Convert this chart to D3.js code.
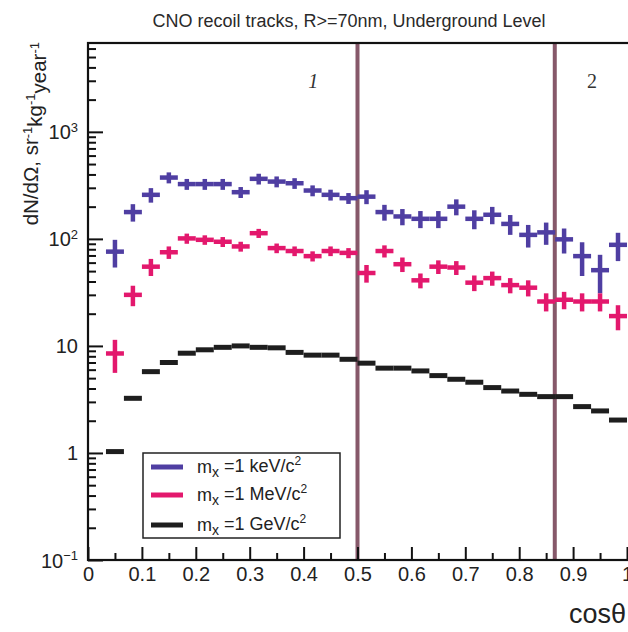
<!DOCTYPE html>
<html>
<head>
<meta charset="utf-8">
<script src="https://cdn.jsdelivr.net/npm/d3@7"></script>
<style>
  html, body { margin: 0; padding: 0; background: #fff; }
  svg { display: block; }
  text { font-family: "Liberation Sans", Arial, Helvetica, sans-serif; fill: #1a1a1a; }
</style>
</head>
<body>
<svg id="chart" width="628" height="632"></svg>
<script>
// ---------------- data ----------------
const titleText = "CNO recoil tracks, R>=70nm, Underground Level";
const binCenters = [0.0500, 0.0833, 0.1167, 0.1500, 0.1833, 0.2167, 0.2500, 0.2833, 0.3167, 0.3500,
                    0.3833, 0.4167, 0.4500, 0.4833, 0.5167, 0.5500, 0.5833, 0.6167, 0.6500, 0.6833,
                    0.7167, 0.7500, 0.7833, 0.8167, 0.8500, 0.8833, 0.9167, 0.9500, 0.9833];
const binWidth = 1 / 30;

const keVValues = [76, 178, 258, 374, 325, 325, 325, 273, 364, 343,
                   331, 283, 258, 240, 248, 178, 162, 154, 154, 200,
                   154, 168, 138, 109, 115, 99, 69, 51, 88];
const keVErrors = [22, 33, 40, 44, 38, 38, 38, 32, 42, 40,
                   38, 33, 30, 28, 37, 30, 28, 28, 28, 34,
                   31, 31, 29, 26, 27, 26, 24, 20, 26];

const MeVValues = [8.5, 30, 55, 75, 101, 98, 94, 85, 113, 82,
                   77, 69, 77, 74, 48, 77, 58, 41, 55, 54,
                   39, 43, 37, 35, 26, 27, 26, 26, 19];
const MeVErrors = [2.9, 6.5, 10, 10, 11, 10, 10, 9, 11, 8.5,
                   8, 7.5, 8, 8, 9, 10, 9, 6.5, 8, 8,
                   6.5, 6.5, 6, 6, 5, 5, 5, 5, 5];

const GeVValues = [1.03, 3.24, 5.75, 7.0, 8.55, 9.2, 9.7, 10.0, 9.7, 9.6,
                   8.7, 8.2, 8.2, 7.5, 6.9, 6.2, 6.2, 5.84, 5.28, 4.88,
                   4.58, 4.08, 3.79, 3.53, 3.36, 3.36, 2.71, 2.47, 2.03];
const GeVErrors = GeVValues.map(() => 0);

const regionLines = [0.5, 0.866];
const regionLabels = ["1", "2"];
const regionLabelPos = [0.418, 0.935];

const xTickValues = [0, 0.1, 0.2, 0.3, 0.4, 0.5, 0.6, 0.7, 0.8, 0.9, 1];
const xTickLabels = ["0", "0.1", "0.2", "0.3", "0.4", "0.5", "0.6", "0.7", "0.8", "0.9", "1"];
const yTickValues = [0.1, 1, 10, 100, 1000];
const yTickBase = ["10", "1", "10", "10", "10"];
const yTickExp = ["\u22121", "", "", "2", "3"];

const legendLabels = ["keV", "MeV", "GeV"];

// ---------------- layout ----------------
const svg = d3.select("#chart");
const L = 88, R = 627, T = 43, B = 560;
const yMax = Math.pow(10, 3.83);

const x = d3.scaleLinear().domain([0, 1]).range([L, R]);
const y = d3.scaleLog().domain([0.1, yMax]).range([B, T]);

const series = [
  { values: keVValues, errors: keVErrors, color: "#4f3ea2", width: 4.5, label: "keV" },
  { values: MeVValues, errors: MeVErrors, color: "#e3186d", width: 4.5, label: "MeV" },
  { values: GeVValues, errors: GeVErrors, color: "#1e1e1e", width: 5, label: "GeV" }
];

// title
svg.append("text")
  .attr("x", 349).attr("y", 27)
  .attr("text-anchor", "middle")
  .style("font-size", "18px")
  .style("fill", "#2a2a2a")
  .text(titleText);

// clip
svg.append("defs").append("clipPath").attr("id", "plotclip")
  .append("rect").attr("x", L).attr("y", T).attr("width", R - L).attr("height", B - T);

const plot = svg.append("g").attr("clip-path", "url(#plotclip)");

// region lines
plot.selectAll("line.region").data(regionLines).enter().append("line")
  .attr("class", "region")
  .attr("x1", d => x(d)).attr("x2", d => x(d))
  .attr("y1", T).attr("y2", B)
  .attr("stroke", "#86586a").attr("stroke-width", 4);

svg.selectAll("text.regionlabel").data(regionLabels).enter().append("text")
  .attr("class", "regionlabel")
  .attr("x", (d, i) => x(regionLabelPos[i]))
  .attr("y", 88)
  .attr("text-anchor", "middle")
  .style("font-family", "'Liberation Serif', 'Times New Roman', serif")
  .style("font-style", (d, i) => i === 0 ? "italic" : "normal")
  .style("font-size", "20px")
  .style("fill", "#333")
  .text(d => d);

// data
series.forEach(s => {
  const g = plot.append("g");
  binCenters.forEach((c, i) => {
    const v = s.values[i];
    const e = s.errors[i];
    g.append("line")
      .attr("x1", x(c - binWidth / 2)).attr("x2", x(c + binWidth / 2))
      .attr("y1", y(v)).attr("y2", y(v))
      .attr("stroke", s.color).attr("stroke-width", s.width);
    if (e > 0) {
      g.append("line")
        .attr("x1", x(c)).attr("x2", x(c))
        .attr("y1", y(v + e)).attr("y2", y(Math.max(v - e, 0.11)))
        .attr("stroke", s.color).attr("stroke-width", s.width);
    }
  });
});

// axes: y
const yMinor = [];
for (let k = -1; k <= 3; k++) {
  for (let m = 2; m <= 9; m++) {
    const v = m * Math.pow(10, k);
    if (v < yMax) yMinor.push(v);
  }
}
const yAxisMinor = svg.append("g").attr("transform", `translate(${L},0)`)
  .call(d3.axisLeft(y).tickValues(yMinor).tickSize(-8).tickFormat(""));
const yAxisMajor = svg.append("g").attr("transform", `translate(${L},0)`)
  .call(d3.axisLeft(y).tickValues(yTickValues).tickSize(-15).tickPadding(27).tickFormat(""));
[yAxisMinor, yAxisMajor].forEach(a => {
  a.selectAll("path").remove();
  a.selectAll("line").attr("stroke", "#111").attr("stroke-width", 2);
});
yAxisMajor.selectAll(".tick").each(function (d, i) {
  const t = d3.select(this).select("text")
    .attr("x", -10).attr("dy", "0.35em")
    .attr("text-anchor", "end")
    .style("font-size", "20px")
    .style("fill", "#222")
    .text(null);
  t.append("tspan").text(yTickBase[i]);
  if (yTickExp[i]) {
    t.append("tspan").attr("dy", "-0.55em").style("font-size", "13px").text(yTickExp[i]);
  }
});

// axes: x
const xMinor = d3.range(0.05, 1, 0.1);
const xAxisMinor = svg.append("g").attr("transform", `translate(0,${B})`)
  .call(d3.axisBottom(x).tickValues(xMinor).tickSize(-7).tickFormat(""));
const xAxisMajor = svg.append("g").attr("transform", `translate(0,${B})`)
  .call(d3.axisBottom(x).tickValues(xTickValues).tickSize(-13).tickPadding(6)
    .tickFormat((d, i) => xTickLabels[i]));
[xAxisMinor, xAxisMajor].forEach(a => {
  a.selectAll("path").remove();
  a.selectAll("line").attr("stroke", "#111").attr("stroke-width", 2);
});
xAxisMajor.selectAll("text")
  .attr("y", 7).attr("dy", "0.71em")
  .style("font-size", "20px").style("fill", "#222");

// frame
svg.append("rect")
  .attr("x", L).attr("y", T).attr("width", R - L + 4).attr("height", B - T)
  .attr("fill", "none").attr("stroke", "#111").attr("stroke-width", 2.2);

// axis titles
svg.append("text")
  .attr("x", 626).attr("y", 623)
  .attr("text-anchor", "end")
  .style("font-size", "27px")
  .style("fill", "#222")
  .text("cos\u03B8");

const yTitle = svg.append("text")
  .attr("transform", "translate(38,42) rotate(-90)")
  .attr("text-anchor", "end")
  .style("font-size", "20.5px")
  .style("fill", "#222");
yTitle.append("tspan").text("dN/d\u03A9, sr");
yTitle.append("tspan").attr("dy", "-0.5em").style("font-size", "13px").text("-1");
yTitle.append("tspan").attr("dy", "0.5em").text("kg");
yTitle.append("tspan").attr("dy", "-0.5em").style("font-size", "13px").text("-1");
yTitle.append("tspan").attr("dy", "0.5em").text("year");
yTitle.append("tspan").attr("dy", "-0.5em").style("font-size", "13px").text("-1");

// legend
const lg = svg.append("g");
lg.append("rect")
  .attr("x", 143).attr("y", 453).attr("width", 197).attr("height", 85)
  .attr("fill", "#fff").attr("stroke", "#222").attr("stroke-width", 1.5);
const rowY = [467, 495, 525];
series.forEach((s, i) => {
  lg.append("line")
    .attr("x1", 151).attr("x2", 183)
    .attr("y1", rowY[i]).attr("y2", rowY[i])
    .attr("stroke", s.color).attr("stroke-width", 5);
  const t = lg.append("text")
    .attr("x", 197).attr("y", rowY[i] + 6)
    .style("font-size", "18px").style("fill", "#222");
  t.append("tspan").text("m");
  t.append("tspan").attr("dy", "0.3em").style("font-size", "14px").text("x");
  t.append("tspan").attr("dy", "-0.3em").text(" =1 " + legendLabels[i] + "/c");
  t.append("tspan").attr("dy", "-0.55em").style("font-size", "12px").text("2");
});
</script>
</body>
</html>
